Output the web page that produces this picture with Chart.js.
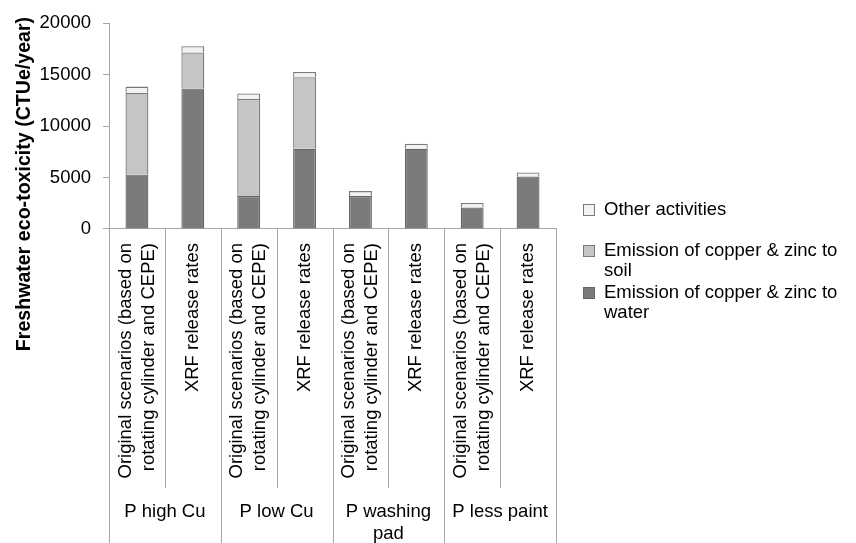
<!DOCTYPE html>
<html>
<head>
<meta charset="utf-8">
<script src="https://cdn.jsdelivr.net/npm/chart.js@4.4.1/dist/chart.umd.min.js"></script>
<style>
  html, body { margin: 0; padding: 0; background: #ffffff; }
  #wrap { width: 856px; height: 543px; position: relative; }
</style>
</head>
<body>
<div id="wrap"><canvas id="myChart"></canvas></div>
<script>
// chart values
var scenarioLabels = [
    ["Original scenarios (based on", "rotating cylinder and CEPE)"], ["XRF release rates"],
    ["Original scenarios (based on", "rotating cylinder and CEPE)"], ["XRF release rates"],
    ["Original scenarios (based on", "rotating cylinder and CEPE)"], ["XRF release rates"],
    ["Original scenarios (based on", "rotating cylinder and CEPE)"], ["XRF release rates"]
];
var groupLabels = [["P high Cu"], ["P low Cu"], ["P washing", "pad"], ["P less paint"]];
var waterValues = [5300, 13650, 3200, 7800, 3200, 7800, 2100, 5100];
var soilValues = [7930, 3500, 9430, 6950, 0, 0, 0, 0];
var otherValues = [600, 600, 540, 500, 480, 480, 420, 400];
var yTicks = [0, 5000, 10000, 15000, 20000];
var yTitle = "Freshwater eco-toxicity (CTUe/year)";
var legendNames = [["Other activities"], ["Emission of copper & zinc to", "soil"], ["Emission of copper & zinc to", "water"]];

var FONT = "Liberation Sans, Arial, sans-serif";
var axisColor = "#a6a6a6";

//plugin for the bits Excel draws that chart.js legend/ticks can't do
var extrasPlugin = {
    id: "extras",
    afterDraw: function(chart){
        var ctx = chart.ctx;
        var xs = chart.scales.x;
        var area = chart.chartArea;
        var step = xs.getPixelForValue(1) - xs.getPixelForValue(0);

        ctx.save();
        ctx.strokeStyle = axisColor;
        ctx.lineWidth = 1;

        // separator lines under the axis
        for(var i = 0; i <= scenarioLabels.length; i++){
            var sx = Math.round(xs.getPixelForValue(i) - step / 2) + 0.5;
            var bottom = (i % 2 == 0) ? 543 : area.bottom + 259;
            ctx.beginPath();
            ctx.moveTo(sx, area.bottom);
            ctx.lineTo(sx, bottom);
            ctx.stroke();
        }

        // rotated scenario labels
        ctx.fillStyle = "#000000";
        ctx.font = "18.5px " + FONT;
        for(var a = 0; a < scenarioLabels.length; a++){
            var lines = scenarioLabels[a];
            var cx = xs.getPixelForValue(a);
            for(var l = 0; l < lines.length; l++){
                var lx = cx + (l - (lines.length - 1) / 2) * 23;
                ctx.save();
                ctx.translate(lx, area.bottom + 14);
                ctx.rotate(-Math.PI / 2);
                ctx.textAlign = "right";
                ctx.textBaseline = "middle";
                ctx.fillText(lines[l], 0, 0);
                ctx.restore();
            }
        }

        // group labels
        ctx.textAlign = "center";
        ctx.textBaseline = "middle";
        for(var g = 0; g < groupLabels.length; g++){
            var gx = (xs.getPixelForValue(g * 2) + xs.getPixelForValue(g * 2 + 1)) / 2;
            for(var m = 0; m < groupLabels[g].length; m++){
                ctx.fillText(groupLabels[g][m], gx, 512 + m * 21.5);
            }
        }

        // y axis title
        ctx.save();
        ctx.translate(25, 184);
        ctx.rotate(-Math.PI / 2);
        ctx.font = "bold 19.6px " + FONT;
        ctx.textAlign = "center";
        ctx.textBaseline = "middle";
        ctx.fillText(yTitle, 0, 0);
        ctx.restore();

        // legend (top item is the top of the stack)
        var order = [2, 1, 0];
        var rowY = [210, 251, 293];
        ctx.font = "18.5px " + FONT;
        ctx.textAlign = "left";
        for(var k = 0; k < order.length; k++){
            var ds = chart.data.datasets[order[k]];
            ctx.fillStyle = ds.backgroundColor;
            ctx.fillRect(583.5, rowY[k] - 5.5, 11, 11);
            ctx.strokeStyle = ds.borderColor;
            ctx.strokeRect(583.5, rowY[k] - 5.5, 11, 11);
            ctx.fillStyle = "#000000";
            for(var n = 0; n < legendNames[k].length; n++){
                ctx.fillText(legendNames[k][n], 604, rowY[k] + n * 20);
            }
        }
        ctx.restore();
    }
};

var ctx1 = document.getElementById("myChart").getContext("2d");
var chart1 = new Chart(ctx1, {
    type: "bar",
    data: {
        labels: scenarioLabels.map(function(s){ return s.join(" "); }),
        datasets: [{
            label: "Emission of copper & zinc to water",
            data: waterValues,
            backgroundColor: "#7b7b7b",
            borderColor: "#666666",
            borderWidth: 1.3
        }, {
            label: "Emission of copper & zinc to soil",
            data: soilValues,
            backgroundColor: "#c4c5c4",
            borderColor: "#7a7a7a",
            borderWidth: 1.3
        }, {
            label: "Other activities",
            data: otherValues,
            backgroundColor: "#f2f2f2",
            borderColor: "#7a7a7a",
            borderWidth: 1.3
        }]
    },
    options: {
        responsive: true,
        maintainAspectRatio: false,
        animation: false,
        devicePixelRatio: 1,
        layout: { padding: { left: 0, top: 13, right: 300, bottom: 0 } },
        plugins: {
            legend: { display: false },
            tooltip: { enabled: false }
        },
        datasets: {
            bar: { barPercentage: 0.41, categoryPercentage: 1.0 }
        },
        scales: {
            x: {
                stacked: true,
                grid: { display: false },
                border: { display: true, color: axisColor, width: 1 },
                ticks: { display: false },
                afterFit: function(s){ s.height = 314; }
            },
            y: {
                stacked: true,
                min: 0,
                max: 20000,
                afterBuildTicks: function(s){
                    s.ticks = yTicks.map(function(v){ return { value: v }; });
                },
                grid: { drawOnChartArea: false, drawTicks: true, tickLength: 6, color: axisColor },
                border: { display: true, color: axisColor, width: 1 },
                ticks: {
                    padding: 12,
                    color: "#000000",
                    font: { family: FONT, size: 18.5 },
                    callback: function(v){ return String(v); }
                },
                afterFit: function(s){ s.width = 109; }
            }
        }
    },
    plugins: [extrasPlugin]
});
</script>
</body>
</html>
